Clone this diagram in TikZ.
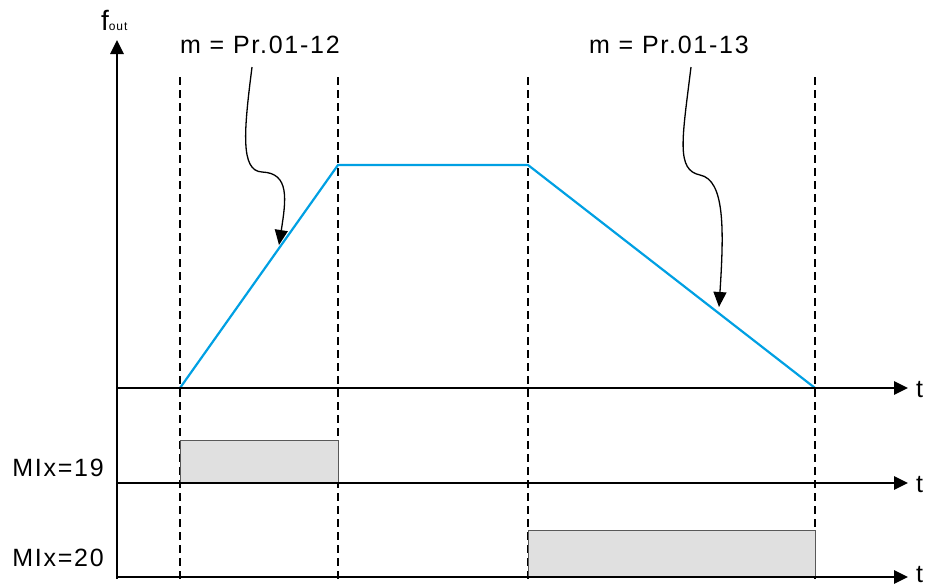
\documentclass[tikz,border=0pt]{standalone}
\usepackage{fontspec}
\setmainfont{Liberation Sans}
\newfontfamily\labelfont[LetterSpace=7]{Liberation Sans}
\usetikzlibrary{arrows.meta}
\definecolor{rampblue}{RGB}{0,160,227}
\definecolor{pulsegray}{RGB}{224,224,224}

\begin{document}
\begin{tikzpicture}[x=1pt,y=-1pt,
  axis/.style={line width=2.8pt,-{Triangle[length=14pt,width=13pt]}},
  guide/.style={line width=1.7pt,dash pattern=on 8pt off 5pt},
  ramp/.style={line width=2.2pt,rampblue},
  pulse/.style={draw=black!65,fill=pulsegray,line width=1pt},
  pointer/.style={line width=1.3pt,-{Triangle[length=15pt,width=13pt]}},
  lbl/.style={font=\labelfont\fontsize{25}{28}\selectfont,inner sep=0pt}]
\useasboundingbox (0,0) rectangle (925,587);
% time marks
\foreach \tx in {180,338,528,815}
  \draw[guide] (\tx,77) -- (\tx,581);
% MI pulses
\draw[pulse] (180,483) rectangle (338,440);
\draw[pulse] (528,577) rectangle (815,530);
% output frequency
\coordinate (rampstart) at (180,388);
\coordinate (rampup) at (338,165);
\coordinate (rampdown) at (528,165);
\coordinate (rampend) at (815,388);
\draw[ramp] (rampstart) -- (rampup) -- (rampdown) -- (rampend);
% axes
\draw[axis] (117,579) -- (117,40);
\draw[axis] (117,388) -- (908,388);
\draw[axis] (117,483) -- (908,483);
\draw[axis] (117,577) -- (908,577);
\node[lbl,anchor=base west] (fout) at (101,30) {\fontsize{28}{30}\selectfont f{\fontsize{12}{13}\selectfont out}};
\node[lbl,anchor=west] (t1) at (916,390) {t};
\node[lbl,anchor=west] (t2) at (916,485) {t};
\node[lbl,anchor=west] (t3) at (916,575) {t};
\node[lbl,anchor=east] (mi19) at (104,468) {MIx=19};
\node[lbl,anchor=east] (mi20) at (104,558) {MIx=20};
% slope labels
\node[lbl] (accel) at (260,45) {m = Pr.01-12};
\node[lbl] (decel) at (669,45) {m = Pr.01-13};
\coordinate (accelmark) at (279,245);
\coordinate (decelmark) at (719,307);
\draw[pointer] ([shift={(-8,13)}]accel.south) .. controls (244,130) and (240,171) .. (262,172)
  .. controls (290,173) and (286,200) .. (accelmark);
\draw[pointer] ([shift={(22,13)}]decel.south) .. controls (682,140) and (676,170) .. (700,175)
  .. controls (725,180) and (724,230) .. (decelmark);
\end{tikzpicture}
\end{document}
